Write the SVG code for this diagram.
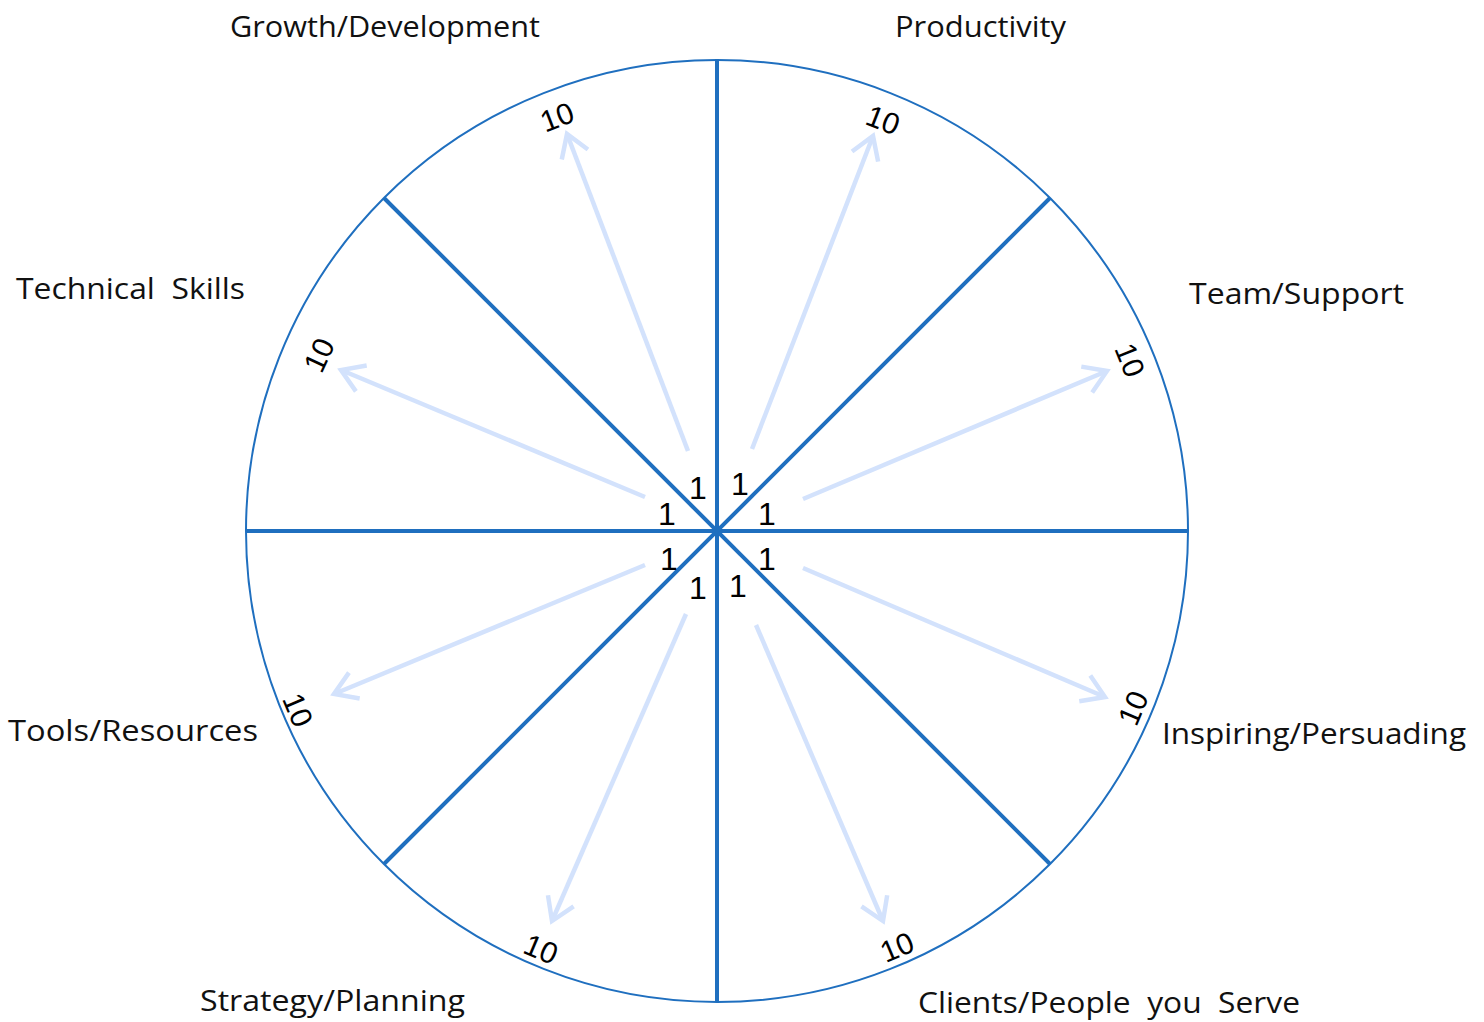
<svg xmlns="http://www.w3.org/2000/svg" width="1484" height="1022" viewBox="0 0 1484 1022">
<style>
.lbl{font-family:"Open Sans","DejaVu Sans",sans-serif;font-size:30px;fill:#111}
.num{font-family:"Liberation Sans",Arial,sans-serif;font-size:32px;fill:#000;text-anchor:middle}
.ten{font-family:"Liberation Sans",Arial,sans-serif;font-size:30px;fill:#000;text-anchor:middle;dominant-baseline:central}
.spoke{stroke:#1f6fbf;stroke-width:4;fill:none}
.arr{stroke:#d3e2fc;stroke-width:4.5;fill:none;marker-end:url(#ah)}
</style>
<defs>
<marker id="ah" markerUnits="userSpaceOnUse" markerWidth="40" markerHeight="40" viewBox="-30 -20 36 40" refX="0" refY="0" orient="auto">
<path d="M-22,-14 L0,0 L-22,14" fill="none" stroke="#d3e2fc" stroke-width="4.5"/>
</marker>
</defs>
<rect width="1484" height="1022" fill="#fff"/>
<g id="wheel">
<circle cx="717" cy="531" r="471" fill="none" stroke="#1f6fbf" stroke-width="2"/>
<line class="spoke" x1="717" y1="60" x2="717" y2="1002"/>
<line class="spoke" x1="246" y1="531" x2="1188" y2="531"/>
<line class="spoke" x1="384" y1="198" x2="1050" y2="864"/>
<line class="spoke" x1="1050" y1="198" x2="384" y2="864"/>
</g>
<g id="connectors">
<line class="arr" x1="688" y1="451" x2="567" y2="134"/>
<line class="arr" x1="752" y1="449" x2="873" y2="136"/>
<line class="arr" x1="803" y1="499" x2="1107" y2="371"/>
<line class="arr" x1="803" y1="568" x2="1105" y2="697"/>
<line class="arr" x1="756" y1="625" x2="883" y2="921"/>
<line class="arr" x1="686" y1="614" x2="552" y2="921"/>
<line class="arr" x1="645" y1="565" x2="334" y2="694"/>
<line class="arr" x1="645" y1="497" x2="341" y2="370"/>
</g>
<g id="ones">
<text class="num" x="698" y="499">1</text>
<text class="num" x="740" y="495">1</text>
<text class="num" x="667" y="525">1</text>
<text class="num" x="767" y="525">1</text>
<text class="num" x="669" y="570">1</text>
<text class="num" x="767" y="570">1</text>
<text class="num" x="698" y="599">1</text>
<text class="num" x="738" y="597">1</text>
</g>
<g id="tens">
<text class="ten" transform="translate(557,117) rotate(-21)">10</text>
<text class="ten" transform="translate(883,120) rotate(21)">10</text>
<text class="ten" transform="translate(1130,360) rotate(68)">10</text>
<text class="ten" transform="translate(1133,708) rotate(-67)">10</text>
<text class="ten" transform="translate(897,947) rotate(-23)">10</text>
<text class="ten" transform="translate(541,949) rotate(23)">10</text>
<text class="ten" transform="translate(298,710) rotate(67)">10</text>
<text class="ten" transform="translate(319,355) rotate(-65)">10</text>
</g>
<g id="node-growth"><text class="lbl" x="230" y="37" textLength="310" lengthAdjust="spacingAndGlyphs">Growth/Development</text></g>
<g id="node-productivity"><text class="lbl" x="895" y="37" textLength="171" lengthAdjust="spacingAndGlyphs">Productivity</text></g>
<g id="node-team"><text class="lbl" x="1189" y="304" textLength="215" lengthAdjust="spacingAndGlyphs">Team/Support</text></g>
<g id="node-technical"><text class="lbl" x="16" y="299" textLength="229" lengthAdjust="spacingAndGlyphs" xml:space="preserve">Technical  Skills</text></g>
<g id="node-inspiring"><text class="lbl" x="1162" y="744" textLength="304" lengthAdjust="spacingAndGlyphs">Inspiring/Persuading</text></g>
<g id="node-tools"><text class="lbl" x="8" y="741" textLength="250" lengthAdjust="spacingAndGlyphs">Tools/Resources</text></g>
<g id="node-strategy"><text class="lbl" x="200" y="1011" textLength="265" lengthAdjust="spacingAndGlyphs">Strategy/Planning</text></g>
<g id="node-clients"><text class="lbl" x="918" y="1013" textLength="382" lengthAdjust="spacingAndGlyphs" xml:space="preserve">Clients/People  you  Serve</text></g>
</svg>
